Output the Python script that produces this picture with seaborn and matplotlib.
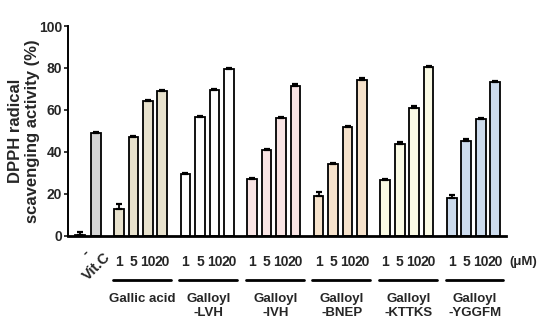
import numpy as np
import pandas as pd
import seaborn as sns
import matplotlib.pyplot as plt
import matplotlib.transforms as mtransforms

# values (% DPPH radical scavenging)
groups = ["Gallic acid", "Galloyl\n-LVH", "Galloyl\n-IVH",
          "Galloyl\n-BNEP", "Galloyl\n-KTTKS", "Galloyl\n-YGGFM"]
doses = ["1", "5", "10", "20"]
control_val, control_err = 0.3, 1.2
vitc_val, vitc_err = 48.9, 0.6
gallic = [12.6, 47.0, 64.4, 69.1]
lvh = [29.4, 56.8, 69.5, 79.7]
ivh = [27.1, 40.8, 56.0, 71.6]
bnep = [19.0, 34.2, 51.6, 74.3]
kttks = [26.4, 43.9, 61.1, 80.4]
yggfm = [17.9, 45.2, 55.7, 73.5]
gallic_err = [2.4, 0.5, 0.5, 0.5]
lvh_err = [0.3, 0.5, 0.4, 0.4]
ivh_err = [0.6, 0.7, 0.4, 0.5]
bnep_err = [2.0, 0.5, 0.8, 1.0]
kttks_err = [0.8, 1.0, 0.6, 0.3]
yggfm_err = [1.5, 0.8, 0.6, 0.5]

colors = {"control": "#ffffff", "Vit.C": "#d4d4d4",
          "Gallic acid": "#ede5c8", "Galloyl\n-LVH": "#ffffff",
          "Galloyl\n-IVH": "#fde0e0", "Galloyl\n-BNEP": "#fde2c4",
          "Galloyl\n-KTTKS": "#fefde0", "Galloyl\n-YGGFM": "#c6daf2"}

sns.set_style("white")
plt.rcParams['font.family'] = ['Liberation Sans Narrow', 'Liberation Sans', 'DejaVu Sans']
plt.rcParams['font.weight'] = 'bold'

# layout of bars on the x axis (slot units)
group_start = 2.69
group_step = 4.59

rows = [{"pos": 0.0, "val": control_val, "err": control_err, "grp": "control"},
        {"pos": 1.1, "val": vitc_val, "err": vitc_err, "grp": "Vit.C"}]
series = [gallic, lvh, ivh, bnep, kttks, yggfm]
errs = [gallic_err, lvh_err, ivh_err, bnep_err, kttks_err, yggfm_err]
for g, name in enumerate(groups):
    for i in range(4):
        rows.append({"pos": round(group_start + group_step * g + i, 3),
                     "val": series[g][i], "err": errs[g][i], "grp": name})
df = pd.DataFrame(rows)

fig = plt.figure(figsize=(5.39, 3.25), dpi=100)
ax = fig.add_axes([0.126, 0.275, 0.813, 0.645])

sns.barplot(data=df, x="pos", y="val", hue="grp", palette=colors,
            native_scale=True, dodge=False, width=0.68, errorbar=None,
            edgecolor="black", linewidth=1.3, legend=False, ax=ax, zorder=2)
ax.errorbar(df["pos"], df["val"], yerr=[np.zeros(len(df)), df["err"]],
            fmt="none", ecolor="black", elinewidth=1.3, capsize=2.5,
            capthick=1.6, zorder=3)

ax.set_xlim(-0.83, 29.4)
ax.set_ylim(0, 100)
ax.set_yticks([0, 20, 40, 60, 80, 100])
ax.tick_params(axis="y", length=3, width=1.3, pad=1, labelsize=10, left=True)
ax.set_xticks([])
ax.set_xlabel("")
for s in ["top", "right"]:
    ax.spines[s].set_visible(False)
ax.spines["left"].set_linewidth(1.4)
ax.spines["bottom"].set_linewidth(2)
ax.spines["left"].set_color("black")
ax.spines["bottom"].set_color("black")

ax.set_ylabel("DPPH radical\nscavenging activity (%)", fontsize=12,
              fontweight="bold", family=["Liberation Sans", "DejaVu Sans"],
              linespacing=1.15)
ax.yaxis.set_label_coords(-0.064, 0.5)

trans = mtransforms.blended_transform_factory(ax.transData, ax.transAxes)
ax.text(0.15, -0.05, "-", transform=trans, rotation=45, ha="right", va="top",
        rotation_mode="anchor", fontsize=10.5)
ax.text(1.6, -0.07, "Vit.C", transform=trans, rotation=45, ha="right",
        va="top", rotation_mode="anchor", fontsize=10.5)

for g, name in enumerate(groups):
    p = df.loc[df["grp"] == name, "pos"].to_numpy()
    for i, d in enumerate(doses):
        ax.text(p[i], -0.125, d, transform=trans, ha="center", va="center",
                fontsize=10)
    ax.plot([p[0] - 0.42, p[-1] + 0.56], [-0.212, -0.212], transform=trans,
            color="black", lw=2, clip_on=False)
    ax.text(p.mean() + 0.1, -0.272, name, transform=trans, ha="center",
            va="top", fontsize=9.5, linespacing=1.3)
    if g == len(groups) - 1:
        ax.text(p[-1] + 0.95, -0.125, "(\u03bcM)", transform=trans,
                ha="left", va="center", fontsize=9.5)

fig.savefig("out.png", dpi=100)
